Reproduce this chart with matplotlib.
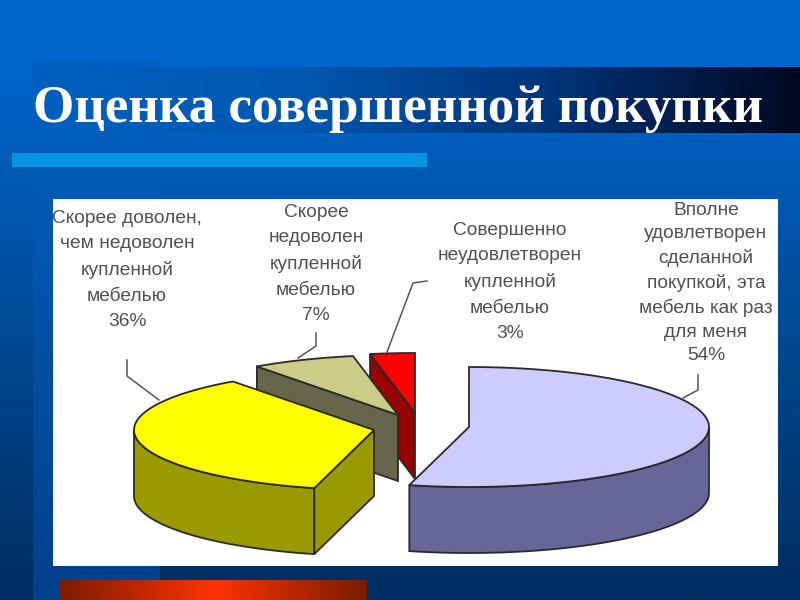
import numpy as np
import matplotlib
matplotlib.use('Agg')
import matplotlib.pyplot as plt
from matplotlib.colors import LinearSegmentedColormap

# chart data
labels = ['Вполне\nудовлетворен\nсделанной\nпокупкой, эта\nмебель как раз\nдля меня\n54%',
          'Скорее доволен,\nчем недоволен\nкупленной\nмебелью\n36%',
          'Скорее\nнедоволен\nкупленной\nмебелью\n7%',
          'Совершенно\nнеудовлетворен\nкупленной\nмебелью\n3%']
values = [54, 36, 7, 3]
title = 'Оценка совершенной покупки'

# slice styles
top_colors = ['#CCCCFF', '#FFFF00', '#CCCC88', '#FF0000']
side_colors = ['#666699', '#999900', '#66664A', '#990000']
centers = [(469, 427), (374, 430), (398, 415), (415, 413)]
label_pos = [(706, 283), (127, 270), (316, 264), (510, 282)]
label_spacing = [1.5, 1.63, 1.63, 1.63]
leaders = [[(698, 375), (698, 390), (683, 398)],
           [(127, 360), (127, 376), (159, 400)],
           [(316, 333), (316, 346), (298, 358)],
           [(427, 281), (413, 283), (387, 352)]]
rx, ry, depth = 240, 60, 66
edge = '#2A2A2A'


def rim(cx, cy, a):
    # a is clockwise from the top of the pie, in degrees
    a = np.radians(a)
    return cx + rx * np.sin(a), cy - ry * np.cos(a)


def gradient(ax, box, stops, vertical=False, n=256):
    cmap = LinearSegmentedColormap.from_list('g', stops)
    g = np.linspace(0, 1, n)
    g = g.reshape(-1, 1) if vertical else g.reshape(1, -1)
    ax.imshow(g, cmap=cmap, extent=box, aspect='auto', vmin=0, vmax=1,
              interpolation='bilinear', zorder=1)


fig = plt.figure(figsize=(8, 6), dpi=100)
ax = fig.add_axes([0, 0, 1, 1])

# extent is left, right, bottom, top in pixels
gradient(ax, (0, 800, 600, 0),
         [(0, '#0066CC'), (0.1, '#0066CC'), (0.95, '#003063'), (1, '#003063')], vertical=True)
gradient(ax, (33, 160, 600, 60), ['#0061C2', '#00418A'], vertical=True)
gradient(ax, (44, 800, 133, 67), ['#0060BE', '#0058B0', '#00357A', '#000820'])
ax.fill_between([12, 427], 153, 167, color='#0095E2', lw=0, zorder=2)
gradient(ax, (60, 367, 600, 580), ['#7A1C00', '#FF3300', '#7A1C00'])
ax.fill_between([53, 778], 199, 566, color='white', lw=0, zorder=2)

ax.text(33, 109, title, color='white', fontsize=38.2, fontweight='bold',
        family='Liberation Serif', va='center', ha='left', zorder=5)

# pie, back slices first so the nearer ones cover them
angles = np.cumsum([0] + values) * 3.6
for n, i in enumerate([3, 2, 0, 1]):
    cx, cy = centers[i]
    a0, a1 = angles[i], angles[i + 1]
    z = 3 + 0.1 * n

    # outer wall, only the part facing the viewer
    lo, hi = max(a0, 90), min(a1, 270)
    if lo < hi:
        t = np.linspace(lo, hi, 80)
        x, y = rim(cx, cy, t)
        ax.fill(np.r_[x, x[::-1]], np.r_[y, y[::-1] + depth],
                fc=side_colors[i], ec=edge, lw=1.3, zorder=z)

    # cut wall at the start of the slice
    if i > 0:
        x0, y0 = rim(cx, cy, a0)
        ax.fill([cx, x0, x0, cx], [cy, y0, y0 + depth, cy + depth],
                fc=side_colors[i], ec=edge, lw=1.3, zorder=z)

    # top face
    t = np.linspace(a0, a1, 80)
    x, y = rim(cx, cy, t)
    ax.fill(np.r_[cx, x], np.r_[cy, y], fc=top_colors[i], ec=edge, lw=1.3, zorder=z)

for i in range(4):
    px, py = zip(*leaders[i])
    ax.plot(px, py, color='#555555', lw=1.1, zorder=4)
    ax.text(label_pos[i][0], label_pos[i][1], labels[i], color='#505050',
            fontsize=13.8, family='Liberation Sans', ha='center', va='center',
            linespacing=label_spacing[i], zorder=5)

ax.set_xlim(0, 800)
ax.set_ylim(600, 0)
ax.axis('off')
fig.savefig('out.png', dpi=100)
